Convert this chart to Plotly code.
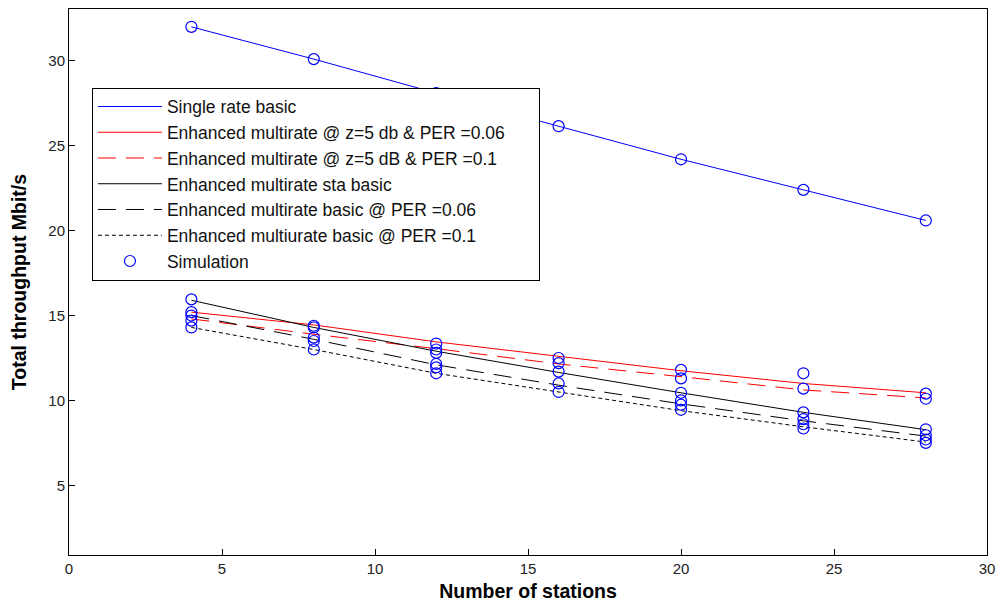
import plotly.graph_objects as go

# Number of stations
stations = [4, 8, 12, 16, 20, 24, 28]

# Analytical throughput curves (Mbit/s)
single_rate_basic = [32.0, 30.1, 28.1, 26.15, 24.2, 22.4, 20.6]
multi_z5_per006 = [15.2, 14.45, 13.45, 12.6, 11.75, 11.0, 10.45]
multi_z5_per01 = [14.8, 13.9, 13.05, 12.15, 11.4, 10.62, 10.15]
multi_sta_basic = [15.9, 14.3, 12.9, 11.65, 10.45, 9.3, 8.28]
multi_basic_per006 = [15.0, 13.6, 12.1, 10.9, 9.8, 8.8, 7.9]
multi_basic_per01 = [14.3, 13.0, 11.6, 10.5, 9.4, 8.45, 7.55]

# Simulation results, one list of samples per station count
sim_x = [4, 8, 12, 16, 20, 24, 28]
sim_samples = [
    [32.0, 15.95, 15.2, 15.0, 14.7, 14.3],
    [30.1, 14.4, 14.3, 13.7, 13.5, 13.0],
    [28.1, 13.35, 13.0, 12.8, 12.15, 11.95, 11.6],
    [26.15, 12.5, 12.2, 11.7, 11.0, 10.5],
    [24.2, 11.8, 11.3, 10.45, 10.0, 9.75, 9.45],
    [22.4, 11.6, 10.7, 9.3, 8.9, 8.6, 8.35],
    [20.6, 10.4, 10.1, 8.3, 7.95, 7.7, 7.5],
]

# trailing non-breaking spaces keep some room at the right of the legend box
PAD = "\u00a0" * 6

series = [
    ("Single rate basic", single_rate_basic, "#0000FF", "solid"),
    ("Enhanced multirate @ z=5 db & PER =0.06" + PAD, multi_z5_per006, "#FF0000", "solid"),
    ("Enhanced multirate @ z=5 dB & PER =0.1", multi_z5_per01, "#FF0000", "18px,10px"),
    ("Enhanced multirate sta basic", multi_sta_basic, "#000000", "solid"),
    ("Enhanced multirate basic @ PER =0.06", multi_basic_per006, "#000000", "18px,10px"),
    ("Enhanced multiurate basic @ PER =0.1", multi_basic_per01, "#000000", "4px,3px"),
]

fig = go.Figure()
for name, ys, color, dash in series:
    fig.add_trace(go.Scatter(
        x=stations, y=ys, mode="lines", name=name,
        line=dict(color=color, width=1, dash=dash),
    ))

sx, sy = [], []
for xv, samples in zip(sim_x, sim_samples):
    for yv in samples:
        sx.append(xv)
        sy.append(yv)
fig.add_trace(go.Scatter(
    x=sx, y=sy, mode="markers", name="Simulation",
    marker=dict(symbol="circle-open", size=11, color="#0000FF",
                line=dict(width=1.2, color="#0000FF")),
))

axis_common = dict(
    showline=True, linecolor="#000000", linewidth=1, mirror=True,
    ticks="inside", ticklen=6, tickcolor="#000000",
    showgrid=False, zeroline=False,
    tickfont=dict(family="Liberation Sans, Arial, sans-serif", size=15, color="#222222"),
)

fig.update_layout(
    width=1003, height=607,
    margin=dict(l=69, r=13, t=8, b=50),
    paper_bgcolor="white", plot_bgcolor="white",
    font=dict(family="Liberation Sans, Arial, sans-serif", color="#000000"),
    xaxis=dict(range=[0, 30], dtick=5, tick0=0,
               title=dict(text="<b>Number of stations</b>", font=dict(size=19.5), standoff=8),
               **axis_common),
    yaxis=dict(range=[0.9, 33.05], tickvals=[5, 10, 15, 20, 25, 30],
               title=dict(text="<b>Total throughput Mbit/s</b>", font=dict(size=19.5), standoff=16),
               **axis_common),
    legend=dict(
        x=0.025, y=0.856, xanchor="left", yanchor="top",
        bgcolor="white", bordercolor="#000000", borderwidth=1,
        font=dict(size=17.5, color="#111111"),
        itemwidth=64,
    ),
    showlegend=True,
)

fig.write_html("out.html")
